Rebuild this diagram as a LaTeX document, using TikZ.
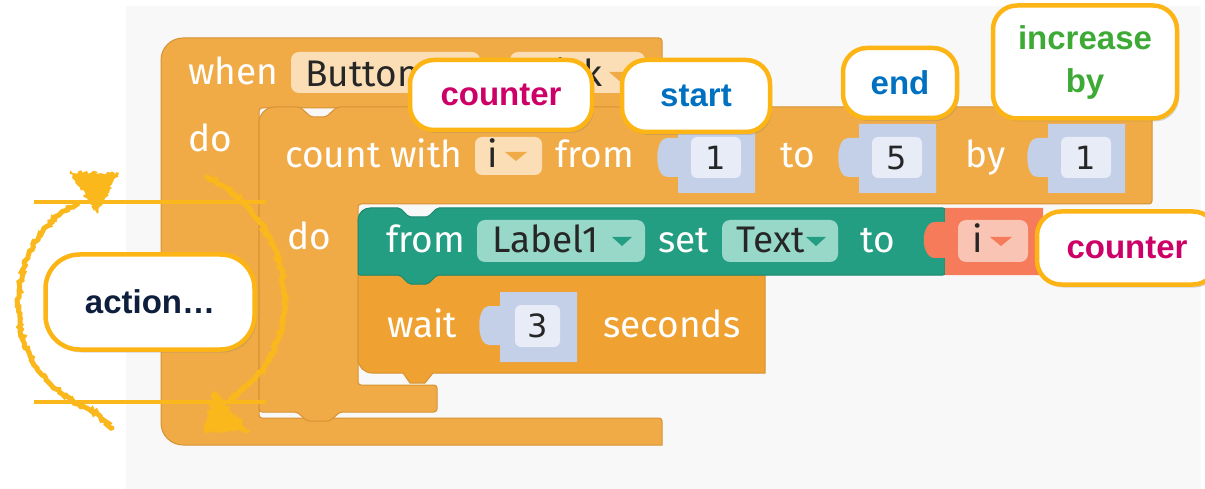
\documentclass[tikz,border=0pt]{standalone}
\usepackage{fontspec}
\setmainfont{Fira Sans}
\newfontfamily\calloutfont{Liberation Sans}
\newfontfamily\digitfont{DejaVu Sans}
\usetikzlibrary{shadows, decorations.pathmorphing}
\definecolor{blockorange}{RGB}{240,171,70}
\definecolor{blockedge}{RGB}{214,146,52}
\definecolor{waitorange}{RGB}{239,161,50}
\definecolor{blockgreen}{RGB}{36,158,130}
\definecolor{greenedge}{RGB}{28,135,110}
\definecolor{greendrop}{RGB}{152,216,200}
\definecolor{salmon}{RGB}{245,123,90}
\definecolor{salmondrop}{RGB}{250,196,180}
\definecolor{peach}{RGB}{251,222,182}
\definecolor{socketblue}{RGB}{195,208,232}
\definecolor{fieldblue}{RGB}{231,236,247}
\definecolor{calloutborder}{RGB}{253,181,21}
\definecolor{loopyellow}{RGB}{250,184,28}
\definecolor{countermagenta}{RGB}{204,0,102}
\definecolor{startblue}{RGB}{0,112,192}
\definecolor{increasegreen}{RGB}{61,170,53}
\definecolor{actionnavy}{RGB}{13,31,60}
\definecolor{panelgray}{RGB}{248,248,248}
\tikzset{blk/.style={fill=blockorange, draw=blockedge, line width=1pt}}
\tikzset{blocktext/.style={text=white, anchor=base west, inner sep=0pt, font=\fontsize{37}{44}\selectfont}}
\tikzset{droptext/.style={text=black!85, anchor=base west, inner sep=0pt, font=\fontsize{37}{44}\selectfont}}
\tikzset{digit/.style={text=black!85, inner sep=0pt, font=\digitfont\fontsize{32}{38}\selectfont}}
\tikzset{callout/.style={draw=calloutborder, line width=4.5pt, fill=white, rounded corners=24pt, drop shadow={opacity=0.3, shadow xshift=2pt, shadow yshift=-3pt}, align=center, inner sep=0pt, font=\calloutfont\bfseries\fontsize{33}{43}\selectfont}}
\tikzset{loopline/.style={loopyellow, line width=4pt}}
\tikzset{rough/.style={loopyellow, line width=5pt, line cap=round, decorate, decoration={random steps, segment length=2.5pt, amplitude=1.6pt}}}
\tikzset{roughtip/.style={fill=loopyellow, decorate, decoration={random steps, segment length=2pt, amplitude=2pt}}}

\begin{document}
\begin{tikzpicture}[x=1pt, y=-1pt]
  \useasboundingbox (0,0) rectangle (1205,489);
  \fill[panelgray] (126,6) rectangle (1201,489);

  % when ... do
  \draw[blk] (161,200) [rounded corners=22pt] -- (161,38) [rounded corners=3pt] -- (662,38) -- (662,108) -- (259,108) -- (259,418) -- (662,418) [sharp corners] -- (662,445) [rounded corners=22pt] -- (161,445) [sharp corners] -- cycle;
  \node[blocktext] (when) at (188,85) {when};
  \node[blocktext] (doOuter) at (188,152) {do};
  \fill[peach, rounded corners=8pt] (291,52) rectangle (480,93);
  \node[droptext] (button) at (305,87) {Button1};
  \fill[blockorange] (450,71) -- (470,71) -- (460,80) -- cycle;
  \fill[peach, rounded corners=8pt] (510,52) rectangle (645,93);
  \node[droptext] (click) at (524,87) {Click};
  \fill[blockorange] (609,72) -- (630,72) -- (619.5,81) -- cycle;

  % count with
  \draw[blk] (259,200) [rounded corners=16pt] -- (259,107) [rounded corners=3pt] -- (300,107) -- (311,117) -- (326,117) -- (337,107) -- (1152,107) -- (1152,204) -- (358,204) -- (358,385) -- (437,385) -- (437,412) -- (340,412) -- (330,421) -- (307,421) -- (297,412) -- (259,412) -- cycle;
  \node[blocktext] (count) at (285,168) {count with};
  \fill[peach, rounded corners=7pt] (475,137) rectangle (542,175);
  \node[droptext] (var) at (487,168) {i};
  \fill[blockorange] (505,152) -- (527,152) -- (516,161) -- cycle;
  \node[blocktext] (fromA) at (555,168) {from};
  \node[blocktext] (toA) at (780,168) {to};
  \node[blocktext] (byA) at (965,168) {by};
  \node[blocktext] (doInner) at (287,250) {do};
  \foreach \sx/\val/\nm in {657/1/startval, 838/5/endval, 1027/1/stepval}{
    \fill[socketblue] (\sx+21,124) -- (\sx+98,124) -- (\sx+98,193) -- (\sx+21,193) -- (\sx+21,177) -- (\sx+10,177) .. controls (\sx-3,177) and (\sx-3,138) .. (\sx+10,138) -- (\sx+21,138) -- cycle;
    \fill[fieldblue, rounded corners=6pt] (\sx+34,137) rectangle (\sx+84,178);
    \node[digit] (\nm) at (\sx+59,158) {\val};
  }

  % wait
  \draw[fill=waitorange, draw=blockedge, line width=1pt] (358,275) -- (765,275) -- (765,373) -- (433,373) -- (425,383) -- (410,383) -- (403,373) [rounded corners=14pt] -- (358,373) -- (358,300) [sharp corners] -- cycle;
  \node[blocktext] (wait) at (387,337) {wait};
  \fill[socketblue] (500,292) -- (577,292) -- (577,362) -- (500,362) -- (500,345) -- (489,345) .. controls (476,345) and (476,306) .. (489,306) -- (500,306) -- cycle;
  \fill[fieldblue, rounded corners=6pt] (515,305) rectangle (560,347);
  \node[digit] (delay) at (537.5,326) {3};
  \node[blocktext] (seconds) at (603,337) {seconds};

  % from Label1 set Text to
  \draw[fill=blockgreen, draw=greenedge, line width=1pt] (358,260) [rounded corners=12pt] -- (358,208) [rounded corners=2pt] -- (400,208) -- (409,217) -- (428,217) -- (437,208) -- (945,208) -- (945,275) -- (437,275) -- (428,284) -- (409,284) -- (400,275) -- (358,275) [sharp corners] -- cycle;
  \node[blocktext] (fromB) at (386,253) {from};
  \fill[greendrop, rounded corners=8pt] (477,220) rectangle (645,262);
  \node[droptext] (label) at (492,253) {Label1};
  \fill[blockgreen] (612,237) -- (632,237) -- (622,246) -- cycle;
  \node[blocktext] (set) at (658,253) {set};
  \fill[greendrop, rounded corners=8pt] (722,220) rectangle (838,262);
  \node[droptext] (prop) at (736,253) {Text};
  \fill[blockgreen] (806,237) -- (826,237) -- (816,246) -- cycle;
  \node[blocktext] (toB) at (860,253) {to};
  \fill[salmon] (945,208) -- (1043,208) -- (1043,275) -- (945,275) -- (945,258) -- (935,258) .. controls (920,258) and (920,222) .. (935,222) -- (945,222) -- cycle;
  \fill[salmondrop, rounded corners=8pt] (958,220) rectangle (1028,262);
  \node[droptext] (getvar) at (972,253) {i};
  \fill[salmon] (990,237) -- (1012,237) -- (1001,246) -- cycle;

  % callouts
  \node[callout, text=countermagenta, minimum width=182pt, minimum height=70pt] (counterTop) at (501,95) {counter};
  \node[callout, text=startblue, minimum width=148pt, minimum height=72pt] (startNote) at (696,96) {start};
  \node[callout, text=startblue, minimum width=114pt, minimum height=70pt] (endNote) at (900,83) {end};
  \node[callout, text=increasegreen, minimum width=184pt, minimum height=113pt] (incNote) at (1085,62) {increase\\by};
  \node[callout, text=countermagenta, minimum width=180pt, minimum height=73pt] (counterRight) at (1127,248) {counter};

  % loop sign
  \draw[loopline] (34,202) -- (266,202);
  \draw[loopline] (34,402) -- (266,402);
  \draw[rough] (78,203) .. controls (2,238) and (-10,372) .. (92,410) -- (112,428);
  \draw[rough] (207,177) .. controls (284,212) and (324,335) .. (230,399);
  \path[roughtip] (70,172) -- (119,173) -- (97,214) -- cycle;
  \path[roughtip] (214,390) -- (250,431) -- (203,432) -- cycle;
  \node[callout, text=actionnavy, rounded corners=34pt, minimum width=209pt, minimum height=95pt] (actionNote) at (150,302) {action…};
\end{tikzpicture}
\end{document}
